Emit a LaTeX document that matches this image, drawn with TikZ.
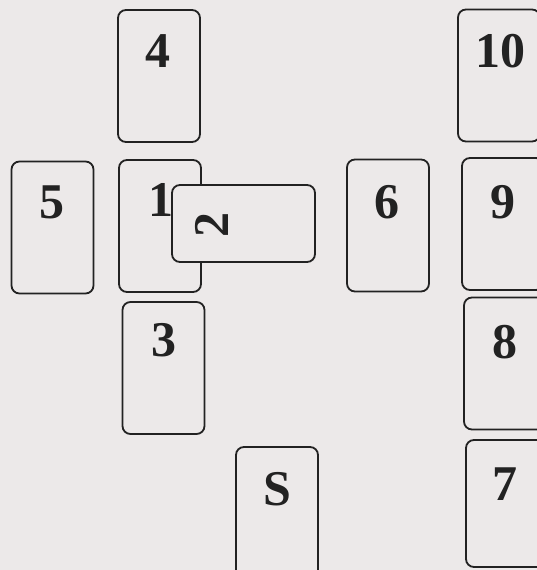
\documentclass[tikz,border=0pt]{standalone}
\usepackage{fontspec}
\setmainfont{Liberation Serif}
\usepackage{tikz}
\usetikzlibrary{calc}

\definecolor{paper}{HTML}{ECE9E9}
\definecolor{ink}{HTML}{222222}

\begin{document}
\begin{tikzpicture}[x=1pt, y=-1pt,
    card/.style={draw=ink, line width=1.8pt, fill=paper, rounded corners=8pt,
                 minimum width=82pt, minimum height=132pt, inner sep=0pt},
    cardnum/.style={text=ink, font=\fontsize{50}{58}\selectfont\bfseries, inner sep=0pt}]
    % --- 1. 背景 ---
    \fill[paper] (0,0) rectangle (537,570);
    \useasboundingbox (0,0) rectangle (537,570);

    % --- 2. 牌的位置 ---
    \node[card] (c4)  at (159,76)    {};
    \node[card] (c10) at (499,75.5)  {};
    \node[card] (c5)  at (52.5,227.5) {};
    \node[card] (c1)  at (160,226)   {};
    \node[card, minimum width=143pt, minimum height=77pt] (c2) at (243.5,223.5) {};
    \node[card] (c6)  at (388,225.5) {};
    \node[card] (c9)  at (503,224)   {};
    \node[card] (c3)  at (163.5,368) {};
    \node[card] (c8)  at (505,363.5) {};
    \node[card] (cS)  at (277,513)   {};
    \node[card, minimum height=127pt] (c7) at (507,503.5) {};

    % --- 3. 編號 ---
    \node[cardnum] (n4)  at (158,51)  {4};
    \node[cardnum] (n10) at (500,51)  {10};
    \node[cardnum] (n5)  at (52,202)  {5};
    \node[cardnum] (n1)  at (161,200) {1};
    \node[cardnum, rotate=90] (n2) at (212,225) {2};
    \node[cardnum] (n6)  at (387,202) {6};
    \node[cardnum] (n9)  at (503,202) {9};
    \node[cardnum] (n3)  at (164,340) {3};
    \node[cardnum] (n8)  at (505,342) {8};
    \node[cardnum] (nS)  at (277,489) {S};
    \node[cardnum] (n7)  at (505,484) {7};
\end{tikzpicture}
\end{document}
